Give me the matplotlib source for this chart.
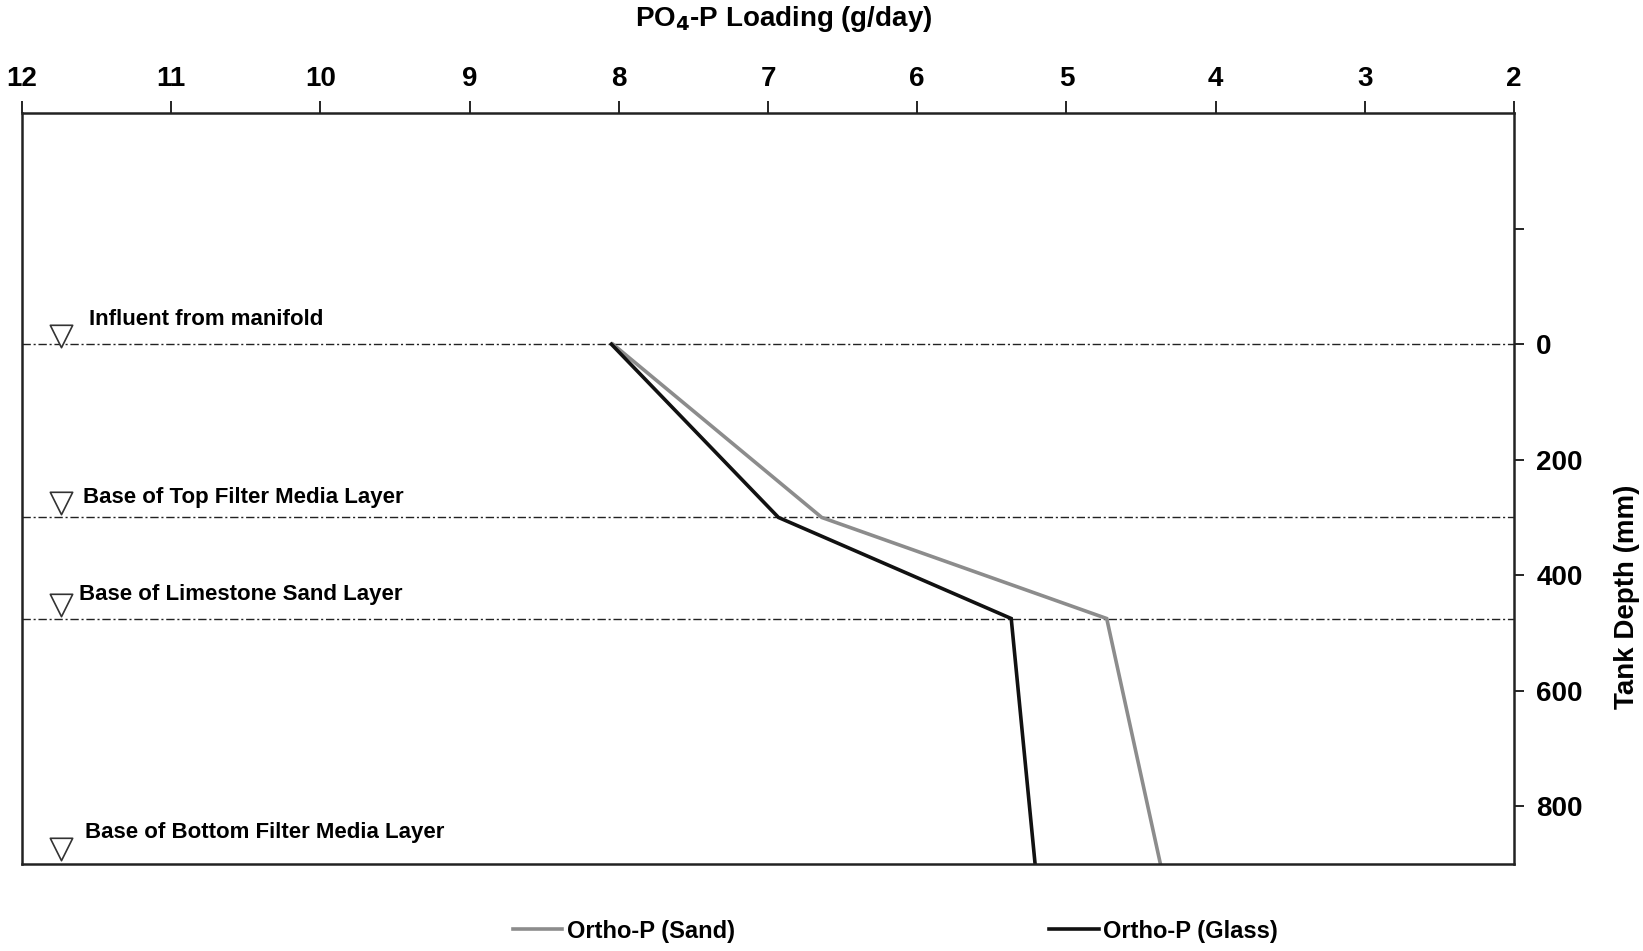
import matplotlib
matplotlib.use("Agg")
import matplotlib.pyplot as plt
from matplotlib.ticker import FixedLocator

plt.rcParams['font.family'] = ['Liberation Sans', 'DejaVu Sans']
plt.rcParams['font.weight'] = 'bold'

# Data
depth = [0, 300, 475, 900]
sand = [8.04, 6.64, 4.73, 4.37]
glass = [8.05, 6.93, 5.37, 5.21]

layer_depths = [0, 300, 475]
marker_depths = [-14, 275, 452, 874]
layer_labels = ["Influent from manifold", "Base of Top Filter Media Layer",
                "Base of Limestone Sand Layer", "Base of Bottom Filter Media Layer"]
label_x = [11.55, 11.59, 11.62, 11.58]
label_y = [-43, 266, 433, 845]

xticks = [12, 11, 10, 9, 8, 7, 6, 5, 4, 3, 2]
yticks = [-200, 0, 200, 400, 600, 800]
ytick_labels = ["", "0", "200", "400", "600", "800"]

fig = plt.figure(figsize=(16.43, 9.51), dpi=100)
ax = fig.add_axes([0.0134, 0.0915, 0.9081, 0.7895])

ax.plot(sand, depth, color='#8c8c8c', lw=2.6, label='Ortho-P (Sand)', solid_joinstyle='miter')
ax.plot(glass, depth, color='#111111', lw=2.6, label='Ortho-P (Glass)', solid_joinstyle='miter')

for d in layer_depths:
    ax.axhline(d, color='#222222', lw=1.0, linestyle=(0, (6, 2, 1.5, 2)), zorder=1)

ax.scatter([11.74] * len(marker_depths), marker_depths, marker='v', s=260,
           facecolor='white', edgecolor='#333333', linewidths=1.2, zorder=3, clip_on=False)

for t, x, y in zip(layer_labels, label_x, label_y):
    ax.text(x, y, t, fontsize=16, fontweight='bold', ha='left', va='center')

ax.set_xlim(12, 2)
ax.set_ylim(900, -400)
ax.xaxis.set_ticks_position('top')
ax.xaxis.set_label_position('top')
ax.xaxis.set_major_locator(FixedLocator(xticks))
ax.set_xticklabels([str(v) for v in xticks])
ax.yaxis.set_ticks_position('right')
ax.yaxis.set_major_locator(FixedLocator(yticks))
ax.set_yticklabels(ytick_labels)

ax.tick_params(axis='x', direction='out', length=9, width=1.2, pad=6, labelsize=20)
ax.tick_params(axis='y', direction='out', length=7, width=1.2, pad=9, labelsize=20)
for s in ax.spines.values():
    s.set_linewidth(1.8)
    s.set_color('#222222')

fig.text(0.477, 0.980, r"PO$_4$-P Loading (g/day)", fontsize=20, fontweight='bold',
         ha='center', va='center')
fig.text(0.990, 0.372, "Tank Depth (mm)", fontsize=20, fontweight='bold',
         rotation=90, ha='center', va='center')

fig.legend(loc='center', bbox_to_anchor=(0.545, 0.021), ncol=2, frameon=False,
           fontsize=17, handlelength=2.1, handletextpad=0.2, columnspacing=13.3)

fig.savefig("out.png", dpi=100)
